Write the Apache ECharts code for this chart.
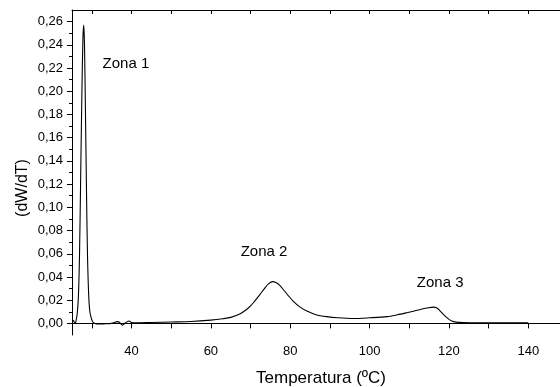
<!DOCTYPE html>
<html>
<head>
<meta charset="utf-8">
<script src="https://cdn.jsdelivr.net/npm/echarts@6/dist/echarts.min.js"></script>
<style>
html,body{margin:0;padding:0;background:#fff;}
#c{width:560px;height:387px;}
</style>
</head>
<body>
<div id="c"></div>
<script>
// Temperature (ºC)
var temps = [25.3,25.6,25.8,26.0,26.3,26.6,26.9,27.2,27.5,27.75,27.95,28.15,28.4,28.65,28.9,29.2,29.5,29.9,30.3,30.8,31.5,33,35,36.5,37.0,37.7,38.5,39.4,40.0,41,45,50,55,60,63,65,67.4,69,70,71,72.4,73.5,74.5,75.6,76.5,77.3,78.3,79.5,80.8,82.5,84.2,86.5,89.2,92,96,100,104.4,107,109.4,111,112.8,114.5,116.1,117,117.8,118.6,119.5,120.3,121.2,122.5,125.4,130,135,140];
// dW/dT
var dwdt = [0.003,0.001,0.000,0.002,0.008,0.022,0.060,0.130,0.200,0.245,0.257,0.240,0.180,0.115,0.060,0.025,0.010,0.004,0.001,0.000,-0.0005,-0.0004,0.0000,0.0015,0.0008,-0.0015,0.0005,0.002,0.0008,0.0005,0.0008,0.0012,0.0016,0.0028,0.0040,0.0052,0.0084,0.012,0.015,0.019,0.025,0.030,0.034,0.036,0.035,0.033,0.029,0.024,0.019,0.014,0.0106,0.0075,0.0058,0.0048,0.0042,0.0048,0.0058,0.0074,0.0092,0.0105,0.012,0.0132,0.014,0.0132,0.0106,0.0078,0.005,0.0028,0.0015,0.0009,0.0006,0.0005,0.0006,0.0005];
var xTicks = [30,40,50,60,70,80,90,100,110,120,130,140];
var xLabels = [40,60,80,100,120,140];
var yLabelsK = [0,2,4,6,8,10,12,14,16,18,20,22,24,26]; // hundredths
var yMinorK = [1,3,5,7,9,11,13,15,17,19,21,23,25];
var zonas = [
  {name:'Zona 1', x:38.6, y:0.2233},
  {name:'Zona 2', x:73.4, y:0.062},
  {name:'Zona 3', x:117.8, y:0.0347}
];

var yLabels = yLabelsK.map(function(k){return k/100;});
var yMinor = yMinorK.map(function(k){return k/100;});
var pts = temps.map(function(t,i){return [t, dwdt[i]];});
var FONT = 'Liberation Sans, Arial, sans-serif';
var lineStyle = {color:'#000', width:1};

var chart = echarts.init(document.getElementById('c'));
chart.setOption({
  animation:false,
  backgroundColor:'#fff',
  grid:{left:72, right:0, top:10, bottom:52},
  xAxis:[{
    type:'value', min:25, max:148, position:'bottom',
    axisLine:{show:true, lineStyle:lineStyle},
    axisTick:{show:true, inside:false, length:5, customValues:xTicks, lineStyle:lineStyle},
    axisLabel:{show:true, customValues:xLabels, margin:10, fontSize:13, color:'#000', fontFamily:FONT},
    splitLine:{show:false}
  },{
    type:'value', min:25, max:148, position:'top',
    axisLine:{show:true, onZero:false, lineStyle:lineStyle},
    axisTick:{show:true, inside:true, length:4, customValues:xTicks, lineStyle:lineStyle},
    axisLabel:{show:false},
    splitLine:{show:false}
  }],
  yAxis:[{
    type:'value', min:-0.01, max:0.27, position:'left',
    axisLine:{show:true, onZero:false, lineStyle:lineStyle},
    axisTick:{show:true, inside:false, length:5, customValues:yLabels, lineStyle:lineStyle},
    axisLabel:{show:true, customValues:yLabels, margin:9, fontSize:13, color:'#000', fontFamily:FONT,
      formatter:function(v){return v.toFixed(2).replace('.',',');}},
    splitLine:{show:false}
  },{
    type:'value', min:-0.01, max:0.27, position:'left',
    axisLine:{show:false},
    axisTick:{show:true, inside:false, length:3, customValues:yMinor, lineStyle:lineStyle},
    axisLabel:{show:false},
    splitLine:{show:false}
  }],
  graphic:[
    {type:'text', x:321, y:378, style:{text:'Temperatura (ºC)', font:'17px '+FONT, fill:'#000', align:'center', verticalAlign:'middle'}},
    {type:'text', x:23, y:188, rotation:Math.PI/2, style:{text:'(dW/dT)', font:'16px '+FONT, fill:'#000', align:'center', verticalAlign:'middle'}}
  ],
  series:[{
    type:'line', data:pts, xAxisIndex:0, yAxisIndex:0,
    showSymbol:false, symbol:'none', smooth:0.3,
    lineStyle:{color:'#000', width:1.1},
    markPoint:{
      symbol:'circle', symbolSize:0,
      label:{show:true, position:'inside', color:'#000', fontSize:15, fontFamily:FONT,
        formatter:function(p){return p.name;}},
      data:zonas.map(function(z){return {name:z.name, coord:[z.x,z.y]};})
    }
  }]
});
</script>
</body>
</html>
